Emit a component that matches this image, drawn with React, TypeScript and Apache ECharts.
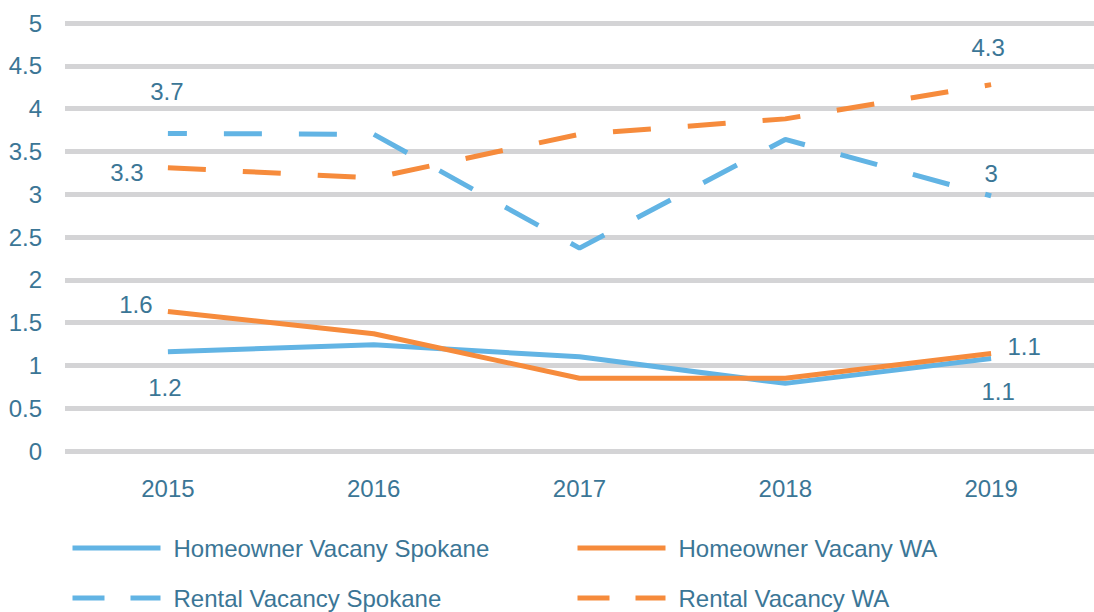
import React, { useEffect, useRef } from "react";
import * as echarts from "echarts";

const years = ["2015", "2016", "2017", "2018", "2019"];
const homeownerSpokane = [1.16, 1.24, 1.1, 0.79, 1.08];
const homeownerWA = [1.63, 1.37, 0.85, 0.85, 1.14];
const rentalSpokane = [3.71, 3.7, 2.37, 3.64, 2.98];
const rentalWA = [3.31, 3.19, 3.7, 3.88, 4.28];
const yTicks = ["0", "0.5", "1", "1.5", "2", "2.5", "3", "3.5", "4", "4.5", "5"];

const seriesNames = [
  "Homeowner Vacany Spokane",
  "Homeowner Vacany WA",
  "Rental Vacancy Spokane",
  "Rental Vacancy WA",
];

const BLUE = "#62B4E4";
const ORANGE = "#F68B3C";
const TEXT = "#3B7696";
const FONT = "'Liberation Sans', Arial, sans-serif";
const FS = 24;

// label offsets for first (2015) and last (2019) points of each series
const labelOffsets: number[][][] = [
  [[-3, 36], [7, 33]],
  [[-32, -7], [33, -7]],
  [[-1, -42], [0, -22]],
  [[-41, 5], [-3, -37]],
];

function withLabels(values: number[], idx: number) {
  return values.map((v, i) => {
    const isEnd = i === 0 || i === values.length - 1;
    if (!isEnd) return { value: v };
    const off = labelOffsets[idx][i === 0 ? 0 : 1];
    return {
      value: v,
      label: {
        show: true,
        position: "inside",
        offset: off,
        color: TEXT,
        fontSize: FS,
        fontFamily: FONT,
        formatter: (p: any) => String(Number(Number(p.value).toFixed(1))),
      },
    };
  });
}

export default function App() {
  const ref = useRef<HTMLDivElement>(null);
  useEffect(() => {
    if (!ref.current) return;
    const chart = echarts.init(ref.current, undefined, { renderer: "svg" });
    const allData = [homeownerSpokane, homeownerWA, rentalSpokane, rentalWA];
    const colors = [BLUE, ORANGE, BLUE, ORANGE];
    const dashes: any[] = ["solid", "solid", [38, 37], [38, 37]];
    const dashOffsets = [0, 0, 19, 0];
    const legendPos = [
      { left: 70, top: 536 },
      { left: 575, top: 536 },
      { left: 70, top: 586 },
      { left: 575, top: 586 },
    ];
    const legendDash: any[] = ["solid", "solid", [32, 26], [32, 26]];

    chart.setOption({
      animation: false,
      grid: { left: 65, right: -9, top: 23, bottom: 161, containLabel: false },
      xAxis: {
        type: "category",
        data: years,
        boundaryGap: true,
        axisLine: { show: false },
        axisTick: { show: false },
        axisLabel: { color: TEXT, fontSize: FS, fontFamily: FONT, margin: 25 },
        splitLine: { show: false },
      },
      yAxis: {
        type: "value",
        min: 0,
        max: 5,
        interval: 0.5,
        axisLine: { show: false },
        axisTick: { show: false },
        axisLabel: {
          color: TEXT,
          fontSize: FS,
          fontFamily: FONT,
          margin: 23,
          formatter: (v: number) => yTicks[Math.round(v / 0.5)] ?? String(v),
        },
        splitLine: { show: true, lineStyle: { color: "#D4D4D6", width: 5 } },
      },
      legend: seriesNames.map((n, i) => ({
        data: [n],
        left: legendPos[i].left,
        top: legendPos[i].top,
        orient: "horizontal",
        itemWidth: 88,
        itemHeight: 5,
        padding: 0,
        textStyle: { color: TEXT, fontSize: FS, fontFamily: FONT, padding: [0, 0, 0, 8] },
        lineStyle: { width: 5, type: legendDash[i], dashOffset: 0, color: colors[i] },
        itemStyle: { opacity: 0 },
        selectedMode: false,
      })),
      series: allData.map((d, i) => ({
        name: seriesNames[i],
        type: "line",
        data: withLabels(d, i),
        symbol: "circle",
        symbolSize: 1,
        showSymbol: true,
        itemStyle: { color: "rgba(0,0,0,0)" },
        lineStyle: {
          color: colors[i],
          width: 5,
          type: dashes[i],
          dashOffset: dashOffsets[i],
          cap: "butt",
        },
        emphasis: { disabled: true },
        z: i < 2 ? 3 : 2,
      })),
    });
    return () => chart.dispose();
  }, []);
  return <div ref={ref} style={{ width: 1094, height: 612, position: "absolute", left: 0, top: 0 }} />;
}
